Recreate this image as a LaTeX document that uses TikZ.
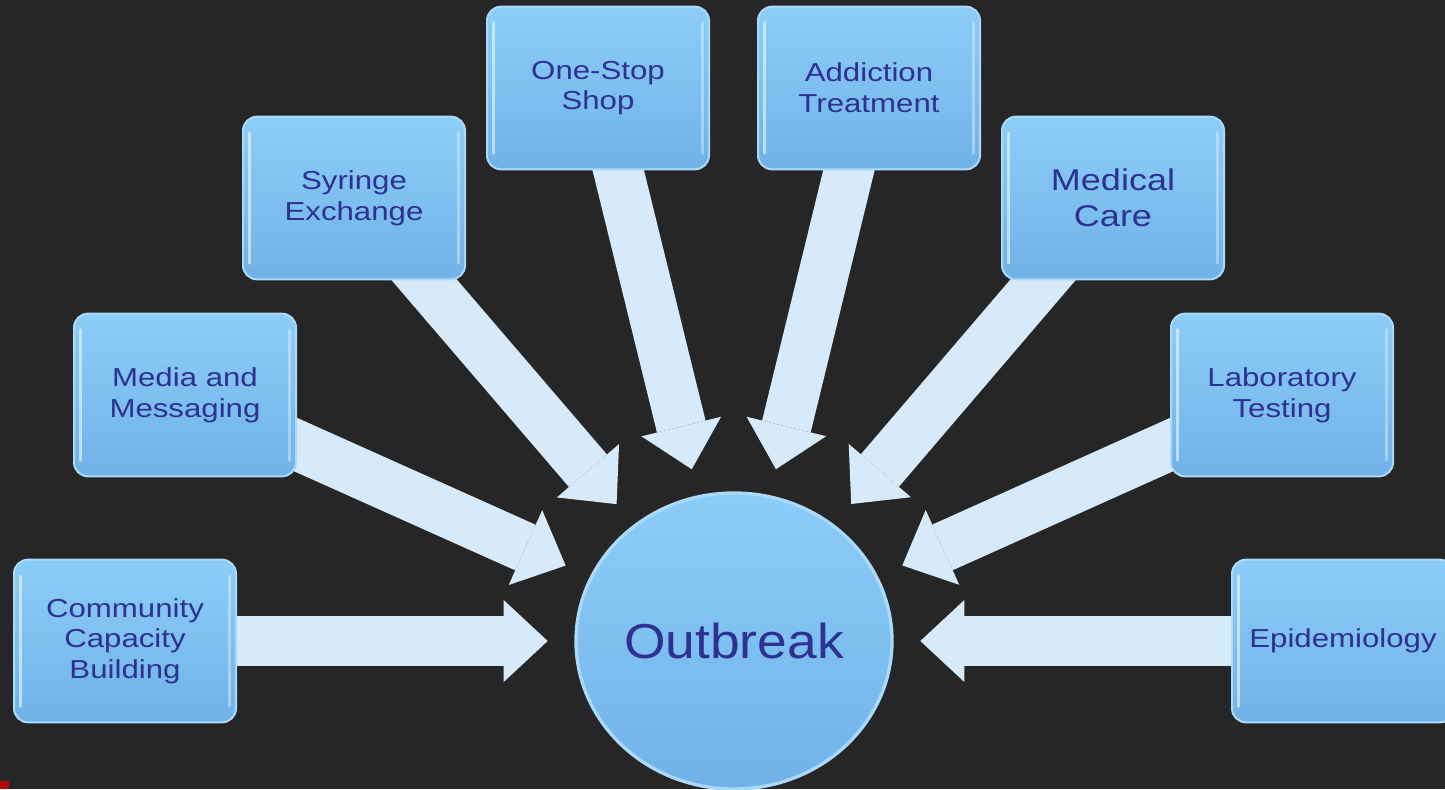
\documentclass[tikz,border=0pt]{standalone}
\usepackage{fontspec}
\setmainfont{Liberation Sans}
\newfontfamily\boxfont[FakeStretch=1.2]{Liberation Sans}
\newfontfamily\circfont[FakeStretch=1.09]{Liberation Sans}
\usetikzlibrary{arrows.meta,shapes.geometric}
\definecolor{bgc}{RGB}{38,38,38}
\definecolor{arrc}{RGB}{214,234,250}
\definecolor{boxtop}{RGB}{140,205,248}
\definecolor{boxbot}{RGB}{112,178,232}
\definecolor{boxedge}{RGB}{170,218,248}
\definecolor{txtc}{RGB}{46,49,146}
\definecolor{markred}{RGB}{170,10,10}
\pgfdeclarelayer{bgl}
\pgfdeclarelayer{arrl}
\pgfsetlayers{bgl,arrl,main}
\begin{document}
\begin{tikzpicture}[x=0.75pt,y=-0.75pt,
  box/.style={rectangle, rounded corners=10.5pt, minimum width=166.5pt,
    minimum height=122pt, top color=boxtop, bottom color=boxbot,
    draw=boxedge, line width=1.5pt, text=txtc, align=center,
    font=\boxfont\fontsize{19.5}{23}\selectfont, inner sep=0pt,
    path picture={
      \draw[white,opacity=0.55,line width=2pt,line cap=round]
        ([xshift=5pt,yshift=-12pt]path picture bounding box.north west) --
        ([xshift=5pt,yshift=12pt]path picture bounding box.south west);
      \draw[white,opacity=0.35,line width=2pt,line cap=round]
        ([xshift=-5pt,yshift=-12pt]path picture bounding box.north east) --
        ([xshift=-5pt,yshift=12pt]path picture bounding box.south east);
    }},
  bigtxt/.style={font=\boxfont\fontsize{22.5}{27}\selectfont},
  bigarrow/.style={draw=arrc, line width=37.5pt,
    -{Triangle[length=33pt,width=61.5pt,line width=0pt,fill=arrc]},
    shorten >=20pt}
]
\useasboundingbox (0,0) rectangle (1445,789);
\begin{pgfonlayer}{bgl}
  \fill[bgc] (0,0) rectangle (1445,789);
\end{pgfonlayer}
\clip (0,0) rectangle (1445,789);

\node[box] (cc) at (125,641) {Community\\Capacity\\Building};
\node[box] (mm) at (185,395) {Media and\\Messaging};
\node[box] (se) at (354,198) {Syringe\\Exchange};
\node[box] (os) at (598,88) {One-Stop\\Shop};
\node[box] (at) at (869,88) {Addiction\\Treatment};
\node[box,bigtxt] (mc) at (1113,198) {Medical\\Care};
\node[box] (lt) at (1282,395) {Laboratory\\Testing};
\node[box] (ep) at (1343,641) {Epidemiology};

\node[ellipse, minimum width=237pt, minimum height=222pt, inner sep=0pt,
  top color=boxtop, bottom color=boxbot, draw=boxedge, line width=2.5pt,
  text=txtc, font=\circfont\fontsize{36.75}{40}\selectfont] (out) at (734,641) {Outbreak};

\begin{pgfonlayer}{arrl}
  \draw[bigarrow] (cc.center) -- (out);
  \draw[bigarrow] (mm.center) -- (out);
  \draw[bigarrow] (se.center) -- (out);
  \draw[bigarrow] (os.center) -- (out);
  \draw[bigarrow] (at.center) -- (out);
  \draw[bigarrow] (mc.center) -- (out);
  \draw[bigarrow] (lt.center) -- (out);
  \draw[bigarrow] (ep.center) -- (out);
\end{pgfonlayer}

\fill[markred] (0,781) rectangle (9,789);
\end{tikzpicture}
\end{document}
